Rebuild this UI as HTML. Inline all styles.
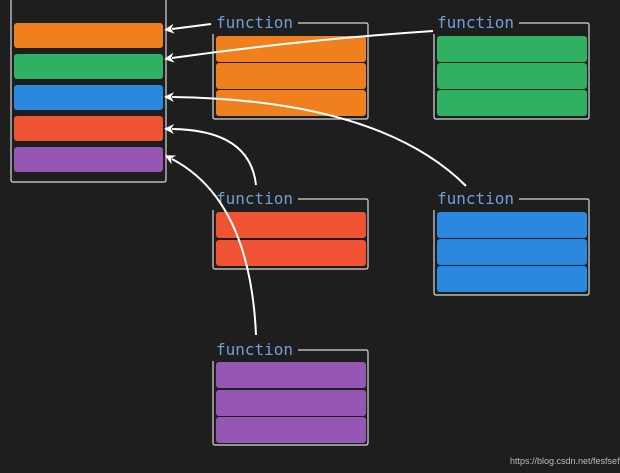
<!DOCTYPE html>
<html><head><style>
html,body{margin:0;padding:0;background:#1e1e1e;}
svg{display:block}
text{font-family:"DejaVu Sans Mono","Liberation Mono",monospace;}
</style></head><body>
<svg width="620" height="473" viewBox="0 0 620 473" xmlns="http://www.w3.org/2000/svg">
<rect width="620" height="473" fill="#1e1e1e"/>
<defs>
<marker id="a" viewBox="0 0 10 10" refX="2" refY="5" markerWidth="5" markerHeight="5" orient="auto-start-reverse">
<path d="M0,0 L10,5 L0,10 L3,5 Z" fill="#fff"/></marker>
</defs>
<!-- left container -->
<path d="M11,0 V180 Q11,182 13,182 H164 Q166,182 166,180 V0" fill="none" stroke="#d8d8d8" stroke-width="1.2"/>
<rect x="14" y="23" width="149" height="25" rx="3" fill="#f07f1e"/>
<rect x="14" y="54" width="149" height="25" rx="3" fill="#2fb062"/>
<rect x="14" y="85" width="149" height="25" rx="3" fill="#2a88de"/>
<rect x="14" y="116" width="149" height="25" rx="3" fill="#f05234"/>
<rect x="14" y="147" width="149" height="25" rx="3" fill="#9657b4"/>

<g stroke="#d8d8d8" stroke-width="1.2" fill="none">
<path d="M298,23 H366 Q368,23 368,25 V117 Q368,119 366,119 H215 Q213,119 213,117 V34"/>
<path d="M519,23 H587 Q589,23 589,25 V117 Q589,119 587,119 H436 Q434,119 434,117 V34"/>
<path d="M298,199 H366 Q368,199 368,201 V267 Q368,269 366,269 H215 Q213,269 213,267 V210"/>
<path d="M519,199 H587 Q589,199 589,201 V293 Q589,295 587,295 H436 Q434,295 434,293 V210"/>
<path d="M298,350 H366 Q368,350 368,352 V443 Q368,445 366,445 H215 Q213,445 213,443 V361"/>
</g>
<g font-size="16" fill="#6f9fd6">
<text x="216" y="28">function</text>
<text x="437" y="28">function</text>
<text x="216" y="204">function</text>
<text x="437" y="204">function</text>
<text x="216" y="355">function</text>
</g>
<g>
<rect x="216" y="36" width="150" height="26" rx="3" fill="#f07f1e"/>
<rect x="216" y="63" width="150" height="26" rx="3" fill="#f07f1e"/>
<rect x="216" y="90" width="150" height="26" rx="3" fill="#f07f1e"/>
<rect x="437" y="36" width="150" height="26" rx="3" fill="#2fb062"/>
<rect x="437" y="63" width="150" height="26" rx="3" fill="#2fb062"/>
<rect x="437" y="90" width="150" height="26" rx="3" fill="#2fb062"/>
<rect x="216" y="212" width="150" height="26" rx="3" fill="#f05234"/>
<rect x="216" y="240" width="150" height="26" rx="3" fill="#f05234"/>
<rect x="437" y="212" width="150" height="26" rx="3" fill="#2a88de"/>
<rect x="437" y="239" width="150" height="26" rx="3" fill="#2a88de"/>
<rect x="437" y="266" width="150" height="26" rx="3" fill="#2a88de"/>
<rect x="216" y="362" width="150" height="26" rx="3" fill="#9657b4"/>
<rect x="216" y="390" width="150" height="26" rx="3" fill="#9657b4"/>
<rect x="216" y="417" width="150" height="26" rx="3" fill="#9657b4"/>
</g>
<g stroke="#fff" stroke-width="2" fill="none">
<path d="M211,24 L172,29" marker-end="url(#a)"/>
<path d="M433,31 Q300,40 172,58" marker-end="url(#a)"/>
<path d="M466,186 Q380,100 172,97" marker-end="url(#a)"/>
<path d="M256,185 Q250,130 172,129" marker-end="url(#a)"/>
<path d="M256,335 Q250,200 172,159" marker-end="url(#a)"/>
</g>
<text x="510" y="464" font-size="9" fill="#bbb" style="font-family:'Liberation Sans',sans-serif">https://blog.csdn.net/fesfsefgs</text>
</svg>
</body></html>
